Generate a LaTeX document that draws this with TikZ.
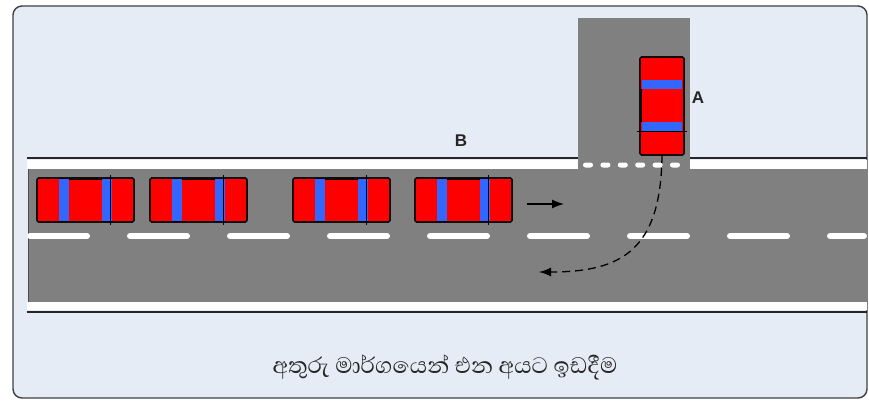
\documentclass[tikz,border=0pt]{standalone}
\usepackage{fontspec}
\setmainfont{Liberation Sans}
\newfontfamily\sinhalafont[Script=Sinhala]{Abhaya Libre}
\usetikzlibrary{arrows.meta}
\definecolor{bgblue}{HTML}{E5ECF6}
\definecolor{roadgrey}{HTML}{808080}
\definecolor{carred}{HTML}{FF0000}
\definecolor{carblue}{HTML}{3366FF}
\begin{document}
\begin{tikzpicture}[x=1pt,y=-1pt,
  frame/.style={draw=black!75,line width=1.4pt,fill=bgblue,rounded corners=9pt},
  edgeline/.style={draw=black!85,line width=2pt},
  whitestripe/.style={fill=white},
  centerdash/.style={draw=white,line width=6pt,line cap=round},
  stopdot/.style={fill=white,rounded corners=2.5pt},
  carbody/.style={rectangle,draw=black,line width=1.1pt,fill=carred,rounded corners=1.5pt,inner sep=0pt,outer sep=0pt},
  hcar/.pic={
    \node[carbody,minimum width=97pt,minimum height=44pt,anchor=north west] (-body) at (0,0) {};
    \fill[carblue] (22,1) rectangle (32,43);
    \fill[carblue] (65,1) rectangle (75,43);
    \draw[black,line width=0.8pt] (32,1) -- (65,1) (32,43) -- (65,43);
    \draw[black,line width=1pt] (73,-3) -- (73,47);
    \draw[black,line width=1.1pt,rounded corners=1.5pt] (0,0) rectangle (97,44);
  },
  vcar/.pic={
    \node[carbody,minimum width=44pt,minimum height=98pt,anchor=north west] (-body) at (0,0) {};
    \fill[carblue] (2,23) rectangle (42,32);
    \fill[carblue] (2,65) rectangle (42,74);
    \draw[black,line width=0.8pt] (1,32) -- (1,65) (43,32) -- (43,65);
    \draw[black,line width=1pt] (-3,74) -- (47,74);
    \draw[black,line width=1.1pt,rounded corners=1.5pt] (0,0) rectangle (44,98);
  },
  lbl/.style={font=\bfseries\fontsize{17}{19}\selectfont,text=black!85,inner sep=0pt},
  dashpath/.style={draw=black,line width=1.3pt,dash pattern=on 8pt off 5pt,-{Latex[length=12pt,width=9pt]}},
  arr/.style={draw=black,line width=1.3pt,-{Latex[length=12pt,width=9pt]}},
  caption/.style={font=\sinhalafont\fontsize{28.7}{30}\selectfont,text=black!85,inner sep=0pt}
]
\useasboundingbox (0,0) rectangle (869,401);
\fill[white] (0,0) rectangle (869,401);
% frame
\path[frame] (13,6) rectangle (867,398);
% side road
\fill[roadgrey] (578,18) rectangle (690,169);
% main road
\fill[roadgrey] (28,169) rectangle (867,302);
\draw[black!70,line width=1pt] (28.5,169) -- (28.5,302);
\fill[whitestripe] (27,160) rectangle (578,169);
\fill[whitestripe] (690,160) rectangle (867,169);
\draw[edgeline] (27,157.5) -- (578,157.5);
\draw[edgeline] (690,157.5) -- (867,157.5);
\fill[whitestripe] (27,302) rectangle (867,310);
\draw[edgeline] (27,312) -- (867,312);
% centre dashes
\foreach \k in {0,...,8} {
  \draw[centerdash] ({30+100*\k},236) -- ({min(87+100*\k,864)},236);
}
% stop line dots
\foreach \k in {0,...,5} {
  \fill[stopdot] ({583+17.4*\k},162.5) rectangle ({593+17.4*\k},167.5);
}
% cars
\pic (c1) at (37,178) {hcar};
\pic (c2) at (150,178) {hcar};
\pic (c3) at (293,178) {hcar};
\pic (c4) at (415,178) {hcar};
\pic (A) at (640,57) {vcar};
% labels
\node[lbl] (labA) at (698,98) {A};
\node[lbl] (labB) at (461,141) {B};
% arrows
\coordinate (ra1) at (527,204);
\coordinate (ra2) at (564,204);
\draw[arr] (ra1) -- (ra2);
\coordinate (turnend) at (539,272);
\draw[dashpath] (A-body.south) .. controls (661,250) and (622,272) .. (turnend);
% caption
\node[caption] (cap) at (445,367) {අතුරු මාර්ගයෙන් එන අයට ඉඩදීම};
\end{tikzpicture}
\end{document}
